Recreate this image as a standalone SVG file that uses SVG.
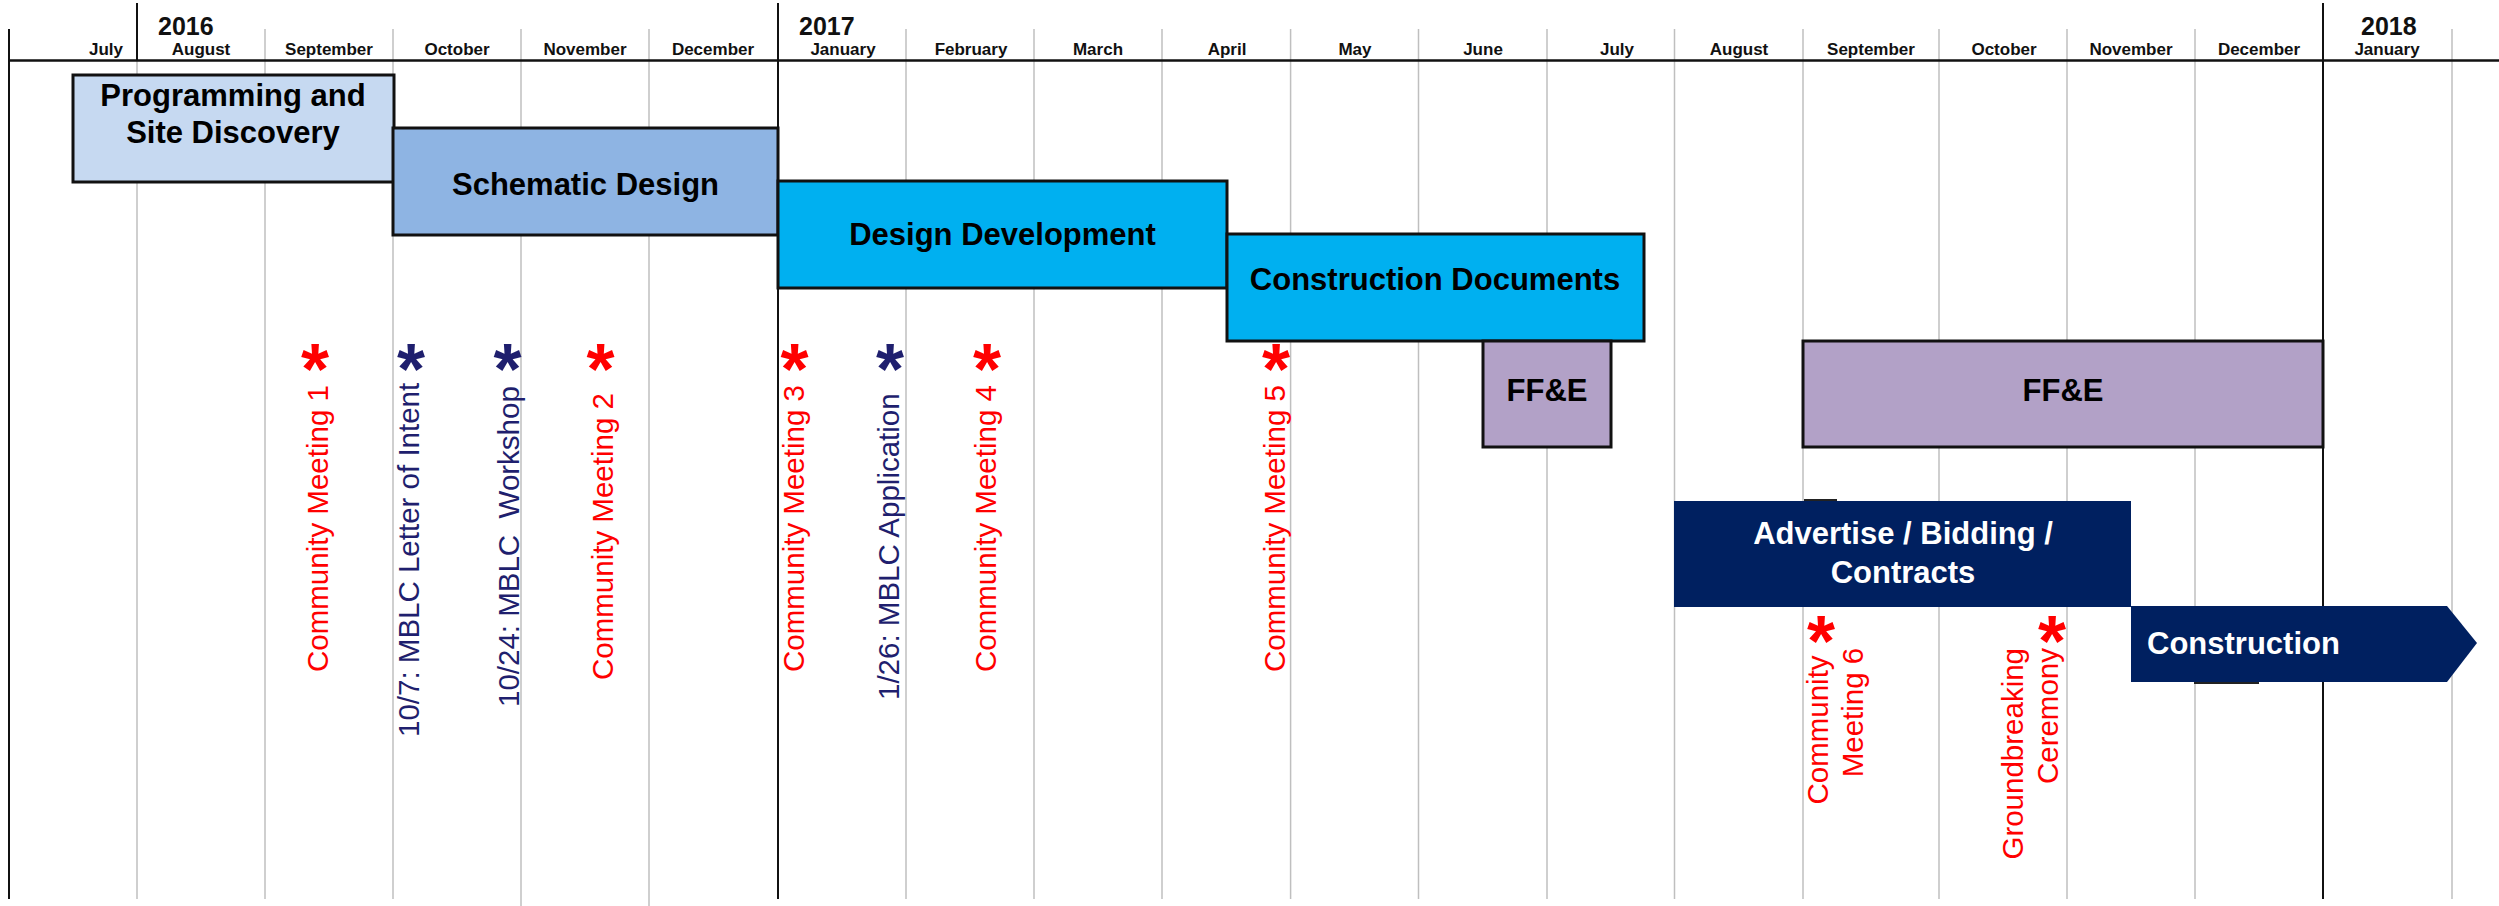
<svg xmlns="http://www.w3.org/2000/svg" width="2499" height="906" viewBox="0 0 2499 906">
<style>
text{font-family:"Liberation Sans",Arial,sans-serif}
.mo{font-size:17px;font-weight:bold;text-anchor:middle;fill:#111}
.yr{font-size:25px;font-weight:bold;fill:#111}
.g{stroke:#BFBFBF;stroke-width:1.5}
.y{stroke:#111;stroke-width:2}
.bar{stroke:#111;stroke-width:3}
.bl{font-size:31px;font-weight:bold;text-anchor:middle;fill:#000}
.wl{font-size:31px;font-weight:bold;fill:#fff}
.ms{font-size:29.5px}
.red{fill:#FF0000}
.nv{fill:#1F1F6E}
.ast{font-size:72px;font-weight:bold;text-anchor:middle}
</style>
<rect width="2499" height="906" fill="#fff"/>
<g id="grid">
<line class="g" x1="137" y1="60" x2="137" y2="899"/>
<line class="g" x1="265" y1="29" x2="265" y2="899"/>
<line class="g" x1="393" y1="29" x2="393" y2="899"/>
<line class="g" x1="521" y1="29" x2="521" y2="906"/>
<line class="g" x1="649" y1="29" x2="649" y2="906"/>
<line class="g" x1="906" y1="29" x2="906" y2="899"/>
<line class="g" x1="1034" y1="29" x2="1034" y2="899"/>
<line class="g" x1="1162" y1="29" x2="1162" y2="899"/>
<line class="g" x1="1290.6" y1="29" x2="1290.6" y2="899"/>
<line class="g" x1="1418.5" y1="29" x2="1418.5" y2="899"/>
<line class="g" x1="1547" y1="29" x2="1547" y2="899"/>
<line class="g" x1="1674.5" y1="29" x2="1674.5" y2="899"/>
<line class="g" x1="1803" y1="29" x2="1803" y2="899"/>
<line class="g" x1="1939" y1="29" x2="1939" y2="899"/>
<line class="g" x1="2067" y1="29" x2="2067" y2="899"/>
<line class="g" x1="2195" y1="29" x2="2195" y2="899"/>
<line class="g" x1="2452" y1="29" x2="2452" y2="899"/>
<line class="y" x1="9" y1="29" x2="9" y2="899"/>
<line class="y" x1="137" y1="3" x2="137" y2="60"/>
<line class="y" x1="778" y1="3" x2="778" y2="899"/>
<line class="y" x1="2323" y1="3" x2="2323" y2="899"/>
<line x1="9" y1="60.6" x2="2499" y2="60.6" stroke="#111" stroke-width="2.5"/>
</g>
<g id="header">
<text class="yr" x="158" y="35">2016</text>
<text class="yr" x="799" y="35">2017</text>
<text class="yr" x="2361" y="35">2018</text>
<text class="mo" x="106" y="55">July</text>
<text class="mo" x="201" y="55">August</text>
<text class="mo" x="329" y="55">September</text>
<text class="mo" x="457" y="55">October</text>
<text class="mo" x="585" y="55">November</text>
<text class="mo" x="713" y="55">December</text>
<text class="mo" x="843" y="55">January</text>
<text class="mo" x="971" y="55">February</text>
<text class="mo" x="1098" y="55">March</text>
<text class="mo" x="1227" y="55">April</text>
<text class="mo" x="1355" y="55">May</text>
<text class="mo" x="1483" y="55">June</text>
<text class="mo" x="1617" y="55">July</text>
<text class="mo" x="1739" y="55">August</text>
<text class="mo" x="1871" y="55">September</text>
<text class="mo" x="2004" y="55">October</text>
<text class="mo" x="2131" y="55">November</text>
<text class="mo" x="2259" y="55">December</text>
<text class="mo" x="2387" y="55">January</text>
</g>
<g id="programming">
<rect class="bar" x="73" y="75" width="321" height="107" fill="#C6D9F1"/>
<text class="bl" x="233" y="106">Programming and</text>
<text class="bl" x="233" y="143">Site Discovery</text>
</g>
<g id="schematic">
<rect class="bar" x="393" y="128" width="385" height="107" fill="#8EB4E3"/>
<text class="bl" x="585.5" y="195">Schematic Design</text>
</g>
<g id="dd">
<rect class="bar" x="778" y="181" width="449" height="107" fill="#00B0F0"/>
<text class="bl" x="1002.5" y="245">Design Development</text>
</g>
<g id="cd">
<rect class="bar" x="1227" y="234" width="417" height="107" fill="#00B0F0"/>
<text class="bl" x="1435" y="290">Construction Documents</text>
</g>
<g id="ffe1">
<rect class="bar" x="1483" y="341" width="128" height="106" fill="#B2A1C7"/>
<text class="bl" x="1547" y="401">FF&amp;E</text>
</g>
<g id="ffe2">
<rect class="bar" x="1803" y="341" width="520" height="106" fill="#B2A1C7"/>
<text class="bl" x="2063" y="401">FF&amp;E</text>
</g>
<g id="advertise">
<rect x="1674" y="501" width="457" height="106" fill="#002060"/>
<line x1="1804" y1="500" x2="1837" y2="500" stroke="#222" stroke-width="2"/>
<text class="wl" x="1903" y="544" text-anchor="middle">Advertise / Bidding /</text>
<text class="wl" x="1903" y="583" text-anchor="middle">Contracts</text>
</g>
<g id="construction">
<path d="M2131,606 L2447,606 L2477,643 L2447,682 L2131,682 Z" fill="#002060"/>
<line x1="2194" y1="683" x2="2259" y2="683" stroke="#222" stroke-width="2"/>
<text class="wl" x="2147" y="654">Construction</text>
</g>
<g id="m-cm1">
<text class="ast red" x="315" y="394">*</text>
<text class="ms red" transform="translate(328,672) rotate(-90)">Community Meeting 1</text>
</g>
<g id="m-loi">
<text class="ast nv" x="411" y="394">*</text>
<text class="ms nv" transform="translate(419,737) rotate(-90)">10/7: MBLC Letter of Intent</text>
</g>
<g id="m-workshop">
<text class="ast nv" x="507.5" y="394">*</text>
<text class="ms nv" transform="translate(518.5,707) rotate(-90)">10/24: MBLC &#160;Workshop</text>
</g>
<g id="m-cm2">
<text class="ast red" x="600.5" y="394">*</text>
<text class="ms red" transform="translate(613,680) rotate(-90)">Community Meeting 2</text>
</g>
<g id="m-cm3">
<text class="ast red" x="794.5" y="394">*</text>
<text class="ms red" transform="translate(804,672) rotate(-90)">Community Meeting 3</text>
</g>
<g id="m-app">
<text class="ast nv" x="890" y="394">*</text>
<text class="ms nv" transform="translate(898.5,700) rotate(-90)">1/26: MBLC Application</text>
</g>
<g id="m-cm4">
<text class="ast red" x="987" y="394">*</text>
<text class="ms red" transform="translate(995.5,672) rotate(-90)">Community Meeting 4</text>
</g>
<g id="m-cm5">
<text class="ast red" x="1276" y="394">*</text>
<text class="ms red" transform="translate(1285,672) rotate(-90)">Community Meeting 5</text>
</g>
<g id="m-cm6">
<text class="ast red" x="1821" y="666">*</text>
<text class="ms red" text-anchor="middle" transform="translate(1828,730) rotate(-90)">Community</text>
<text class="ms red" text-anchor="middle" transform="translate(1863,712.5) rotate(-90)">Meeting 6</text>
</g>
<g id="m-groundbreaking">
<text class="ast red" x="2052" y="666">*</text>
<text class="ms red" text-anchor="end" transform="translate(2023,648) rotate(-90)">Groundbreaking</text>
<text class="ms red" text-anchor="end" transform="translate(2058,648) rotate(-90)">Ceremony</text>
</g>
<g id="connectors"></g>
</svg>
